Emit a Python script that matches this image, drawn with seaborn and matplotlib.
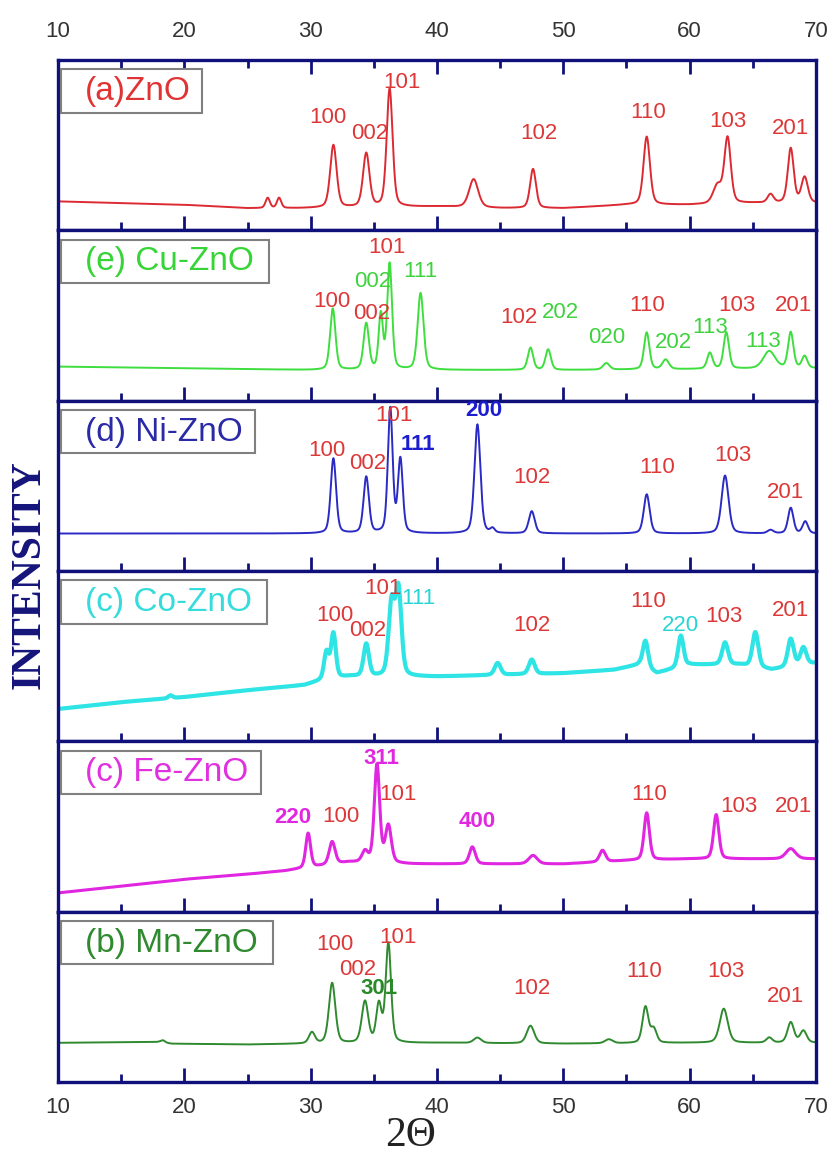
import numpy as np
import pandas as pd
import matplotlib
matplotlib.use("Agg")
import matplotlib.pyplot as plt
from matplotlib.patches import Rectangle
import seaborn as sns

# ---------------- data (normalised panel units) -------------
samples = ["(a)ZnO", "(e) Cu-ZnO", "(d) Ni-ZnO", "(c) Co-ZnO", "(c) Fe-ZnO", "(b) Mn-ZnO"]

# baseline knots
zno_base_x = [10, 15, 20, 25, 29, 40, 45, 50, 55, 60, 65, 70]
zno_base_y = [0.17, 0.16, 0.15, 0.13, 0.13, 0.14, 0.13, 0.13, 0.15, 0.15, 0.16, 0.16]
cu_base_x = [10, 20, 30, 40, 50, 60, 70]
cu_base_y = [0.20, 0.19, 0.18, 0.18, 0.18, 0.185, 0.19]
ni_base_x = [10, 30, 50, 70]
ni_base_y = [0.22, 0.22, 0.22, 0.22]
co_base_x = [10, 15, 20, 25, 29.5, 31, 33, 40, 45, 50, 54, 56, 57.4, 60, 64, 66.5, 70]
co_base_y = [0.19, 0.23, 0.26, 0.30, 0.33, 0.36, 0.38, 0.38, 0.39, 0.40, 0.42, 0.45,
             0.40, 0.45, 0.45, 0.42, 0.46]
fe_base_x = [10, 15, 20, 25, 28, 29, 31, 33, 38, 40, 45, 50, 55, 60, 65, 70]
fe_base_y = [0.11, 0.15, 0.19, 0.22, 0.24, 0.25, 0.27, 0.29, 0.28, 0.28, 0.28, 0.28,
             0.30, 0.31, 0.31, 0.31]
mn_base_x = [10, 18, 19, 25, 30, 40, 50, 60, 70]
mn_base_y = [0.23, 0.235, 0.225, 0.22, 0.225, 0.23, 0.225, 0.23, 0.23]

# peaks: position (2theta), top value, FWHM
zno_pos = [26.6, 27.5, 31.8, 34.4, 36.25, 42.9, 47.6, 56.6, 62.2, 63.0, 66.4, 68.0, 69.1]
zno_top = [0.19, 0.19, 0.50, 0.45, 0.83, 0.30, 0.36, 0.55, 0.26, 0.54, 0.21, 0.48, 0.31]
zno_fw = [0.4, 0.4, 0.6, 0.6, 0.55, 0.85, 0.55, 0.6, 0.8, 0.6, 0.55, 0.55, 0.6]

cu_pos = [31.75, 34.4, 35.55, 36.25, 38.7, 47.4, 48.8, 53.4, 56.6, 58.1, 61.6, 62.9, 66.3, 68.0, 69.1]
cu_top = [0.54, 0.45, 0.50, 0.80, 0.63, 0.31, 0.30, 0.22, 0.40, 0.24, 0.28, 0.40, 0.29, 0.40, 0.26]
cu_fw = [0.5, 0.5, 0.4, 0.45, 0.55, 0.5, 0.5, 0.6, 0.5, 0.6, 0.5, 0.5, 1.1, 0.5, 0.5]

ni_pos = [31.8, 34.4, 36.3, 37.1, 43.2, 44.4, 47.5, 56.6, 62.8, 66.4, 68.0, 69.15]
ni_top = [0.66, 0.55, 0.95, 0.65, 0.86, 0.245, 0.35, 0.45, 0.56, 0.24, 0.37, 0.29]
ni_fw = [0.5, 0.5, 0.45, 0.45, 0.55, 0.4, 0.55, 0.55, 0.65, 0.55, 0.5, 0.5]

co_pos = [18.9, 31.25, 31.8, 34.4, 36.4, 36.95, 44.8, 47.5, 56.5, 59.3, 62.8, 65.2, 68.0, 69.0]
co_top = [0.27, 0.52, 0.63, 0.57, 0.80, 0.88, 0.46, 0.48, 0.59, 0.62, 0.58, 0.64, 0.60, 0.55]
co_fw = [0.4, 0.45, 0.45, 0.5, 0.55, 0.55, 0.55, 0.55, 0.5, 0.5, 0.55, 0.55, 0.55, 0.55]

fe_pos = [29.8, 31.7, 34.3, 35.25, 36.15, 42.8, 47.6, 53.1, 56.6, 62.1, 68.0]
fe_top = [0.46, 0.41, 0.35, 0.86, 0.50, 0.38, 0.33, 0.36, 0.58, 0.57, 0.37]
fe_fw = [0.45, 0.55, 0.55, 0.5, 0.55, 0.55, 0.8, 0.55, 0.5, 0.5, 0.9]

mn_pos = [18.3, 30.1, 31.7, 34.3, 35.4, 36.15, 43.2, 47.4, 53.6, 56.5, 57.15, 62.7, 66.3, 68.0, 69.0]
mn_top = [0.245, 0.29, 0.58, 0.47, 0.45, 0.81, 0.26, 0.33, 0.25, 0.44, 0.31, 0.43, 0.26, 0.35, 0.30]
mn_fw = [0.4, 0.55, 0.6, 0.6, 0.5, 0.5, 0.7, 0.7, 0.7, 0.55, 0.55, 0.75, 0.55, 0.6, 0.6]

# peak labels: text, 2theta, height, colour key, bold
zno_labels = [("100", 31.4, 0.66, "r", 0), ("002", 34.7, 0.57, "r", 0), ("101", 37.2, 0.87, "r", 0),
              ("102", 48.1, 0.57, "r", 0), ("110", 56.7, 0.69, "r", 0), ("103", 63.0, 0.64, "r", 0),
              ("201", 68.0, 0.60, "r", 0)]
cu_labels = [("101", 36.0, 0.90, "r", 0), ("002", 34.9, 0.70, "g", 0), ("111", 38.7, 0.76, "g", 0),
             ("100", 31.7, 0.58, "r", 0), ("002", 34.8, 0.51, "r", 0), ("102", 46.5, 0.49, "r", 0),
             ("202", 49.8, 0.52, "g", 0), ("020", 53.4, 0.37, "g", 0), ("110", 56.6, 0.56, "r", 0),
             ("202", 58.7, 0.34, "g", 0), ("113", 61.6, 0.43, "g", 0), ("103", 63.7, 0.56, "r", 0),
             ("113", 65.8, 0.35, "g", 0), ("201", 68.2, 0.56, "r", 0)]
ni_labels = [("101", 36.6, 0.91, "r", 0), ("200", 43.7, 0.94, "b", 1), ("111", 38.5, 0.74, "b", 1),
             ("100", 31.3, 0.71, "r", 0), ("002", 34.5, 0.63, "r", 0), ("102", 47.5, 0.55, "r", 0),
             ("110", 57.4, 0.61, "r", 0), ("103", 63.4, 0.68, "r", 0), ("201", 67.6, 0.46, "r", 0)]
co_labels = [("101", 35.7, 0.90, "r", 0), ("111", 38.5, 0.84, "c", 0), ("100", 31.9, 0.74, "r", 0),
             ("002", 34.5, 0.65, "r", 0), ("102", 47.5, 0.68, "r", 0), ("110", 56.7, 0.82, "r", 0),
             ("220", 59.3, 0.68, "c", 0), ("103", 62.7, 0.73, "r", 0), ("201", 68.0, 0.77, "r", 0)]
fe_labels = [("311", 35.6, 0.90, "m", 1), ("101", 36.9, 0.69, "r", 0), ("220", 28.6, 0.55, "m", 1),
             ("100", 32.4, 0.56, "r", 0), ("400", 43.2, 0.53, "m", 1), ("110", 56.8, 0.69, "r", 0),
             ("103", 63.9, 0.62, "r", 0), ("201", 68.2, 0.62, "r", 0)]
mn_labels = [("100", 31.9, 0.81, "r", 0), ("101", 36.9, 0.85, "r", 0), ("002", 33.7, 0.66, "r", 0),
             ("301", 35.4, 0.55, "d", 1), ("102", 47.5, 0.55, "r", 0), ("110", 56.4, 0.65, "r", 0),
             ("103", 62.9, 0.65, "r", 0), ("201", 67.6, 0.50, "r", 0)]

tick_major = [10, 20, 30, 40, 50, 60, 70]
tick_minor = [15, 25, 35, 45, 55, 65]

# ---------------- styles -------------
line_colors = ["#dc2a32", "#3ede3e", "#2a2ac4", "#2ee4e4", "#e026e0", "#2f8a2f"]
legend_colors = ["#e03434", "#36d436", "#2a2aa6", "#36dcdc", "#e030e0", "#2f8a2f"]
line_widths = [1.4, 1.4, 1.4, 3.0, 2.2, 1.4]
label_colors = {"r": "#dc3838", "g": "#3ed23e", "b": "#1c1cd0", "c": "#2ad4d4",
                "m": "#e028e0", "d": "#2a8a2a"}
box_right = [21.40, 26.70, 25.59, 26.54, 26.07, 27.02]
navy = "#10107a"

sns.set_style("white")
plt.rcParams["font.family"] = ["Liberation Sans", "DejaVu Sans"]

panels = [
    (zno_base_x, zno_base_y, zno_pos, zno_top, zno_fw, zno_labels),
    (cu_base_x, cu_base_y, cu_pos, cu_top, cu_fw, cu_labels),
    (ni_base_x, ni_base_y, ni_pos, ni_top, ni_fw, ni_labels),
    (co_base_x, co_base_y, co_pos, co_top, co_fw, co_labels),
    (fe_base_x, fe_base_y, fe_pos, fe_top, fe_fw, fe_labels),
    (mn_base_x, mn_base_y, mn_pos, mn_top, mn_fw, mn_labels),
]

grid = np.linspace(10, 70, 3001)


def pattern(bx, by, pos, top, fw):
    base = np.interp(grid, bx, by)
    y = base.copy()
    for p, t, w in zip(pos, top, fw):
        amp = t - np.interp(p, bx, by)
        g = w / 2.0
        lor = g ** 2 / ((grid - p) ** 2 + g ** 2)
        gau = np.exp(-4 * np.log(2) * (grid - p) ** 2 / w ** 2)
        y += amp * (0.35 * lor + 0.65 * gau)
    return y


fig = plt.figure(figsize=(8.34, 11.58), dpi=100)
axes = fig.subplots(6, 1, sharex=True, gridspec_kw=dict(hspace=0))
fig.subplots_adjust(left=58 / 834, right=816 / 834, top=1 - 60 / 1158, bottom=1 - 1082 / 1158)

for i, (ax, (bx, by, pos, top, fw, labels)) in enumerate(zip(axes, panels)):
    df = pd.DataFrame({"two_theta": grid, "intensity": pattern(bx, by, pos, top, fw)})
    sns.lineplot(data=df, x="two_theta", y="intensity", ax=ax, color=line_colors[i],
                 linewidth=line_widths[i], estimator=None, zorder=2)
    ax.set_xlim(10, 70)
    ax.set_ylim(0, 1)
    ax.set_yticks([])
    ax.set_xlabel("")
    ax.set_ylabel("")
    for s in ax.spines.values():
        s.set_color(navy)
        s.set_linewidth(2.4)
    ax.set_xticks(tick_major)
    ax.set_xticks(tick_minor, minor=True)
    ax.tick_params(axis="x", which="major", direction="in", length=10, width=2.0,
                   color=navy, labelsize=16, labelcolor="#333333")
    ax.tick_params(axis="x", which="minor", direction="in", length=6, width=2.0, color=navy)
    if i == 0:
        ax.tick_params(axis="x", which="both", top=True, bottom=True,
                       labeltop=True, labelbottom=False, pad=13)
    elif i == 5:
        ax.tick_params(axis="x", which="both", top=False, bottom=True,
                       labelbottom=True, pad=11)
    else:
        ax.tick_params(axis="x", which="both", top=False, bottom=True, labelbottom=False)

    # legend box
    rect = Rectangle((10.24, 0.69), box_right[i] - 10.24, 0.255, transform=ax.transData,
                     facecolor="white", edgecolor="#808080", linewidth=1.5, zorder=4)
    ax.add_patch(rect)
    ax.text(12.14, 0.815, samples[i], fontsize=24, color=legend_colors[i],
            ha="left", va="center", zorder=5)

    for txt, x0, y0, ck, bold in labels:
        ax.text(x0, y0, txt, fontsize=16, color=label_colors[ck], ha="center", va="center",
                fontweight="bold" if bold else "normal", zorder=6)

fig.text(0.036, 1 - 575 / 1158, "INTENSITY", rotation=90, fontsize=30, fontweight="bold",
         family=["Liberation Serif", "DejaVu Serif"], color="#14147a", ha="center", va="center")
fig.text(411 / 834, 1 - 1136 / 1158, "2Θ", fontsize=30,
         family=["Liberation Serif", "DejaVu Serif"], color="#222222", ha="center", va="center")

fig.savefig("out.png", dpi=100)
